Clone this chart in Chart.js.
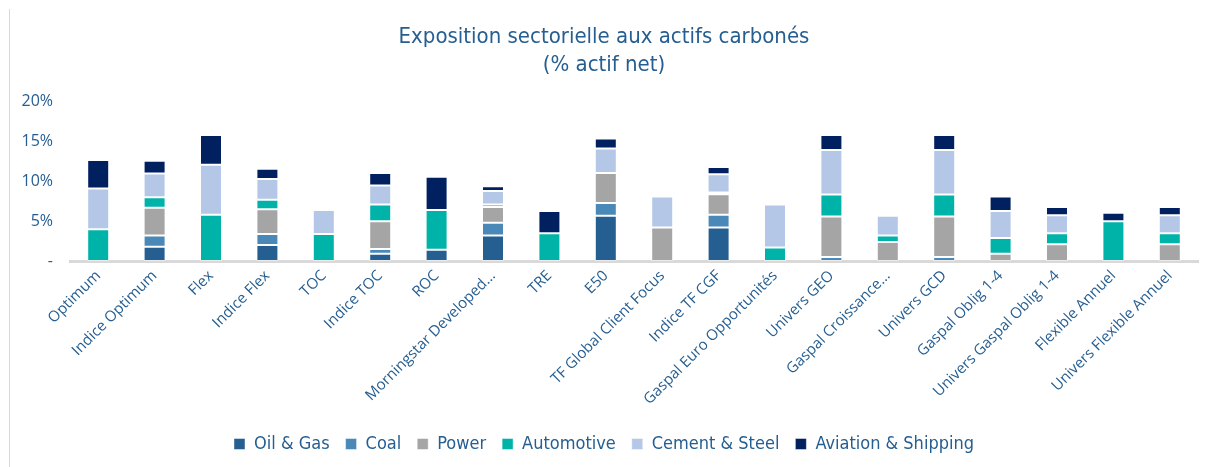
<!DOCTYPE html>
<html>
<head>
<meta charset="utf-8">
<script src="https://cdn.jsdelivr.net/npm/chart.js@4/dist/chart.umd.min.js"></script>
<style>
  html, body { margin: 0; padding: 0; background: #fff; }
  #wrap { position: relative; width: 1205px; height: 467px; }
  #edge { position: absolute; left: 9px; top: 9px; width: 0; height: 458px; border-left: 1px solid #f7ee1c; }
</style>
</head>
<body>
<div id="wrap">
  <div id="edge"></div>
  <canvas id="chart" width="1205" height="467"></canvas>
</div>
<script>
// categories (funds / benchmarks)
const categories = ["Optimum", "Indice Optimum", "Flex", "Indice Flex", "TOC", "Indice TOC", "ROC",
  "Morningstar Developed...", "TRE", "E50", "TF Global Client Focus", "Indice TF CGF",
  "Gaspal Euro Opportunités", "Univers GEO", "Gaspal Croissance...", "Univers GCD",
  "Gaspal Oblig 1-4", "Univers Gaspal Oblig 1-4", "Flexible Annuel", "Univers Flexible Annuel"];

// % of net assets, per sector
const oilGas      = [0, 1.8, 0, 2.0, 0, 0.9, 1.4, 3.2, 0, 5.7, 0, 4.2, 0, 0, 0, 0, 0, 0, 0, 0];
const coal        = [0, 1.4, 0, 1.4, 0, 0.6, 0, 1.6, 0, 1.6, 0, 1.6, 0, 0.5, 0, 0.5, 0, 0, 0, 0];
const power       = [0, 3.5, 0, 3.1, 0, 3.5, 0, 2.0, 0, 3.75, 4.2, 2.6, 0, 5.1, 2.4, 5.1, 0.9, 2.1, 0, 2.1];
const automotive  = [4.0, 1.3, 5.8, 1.2, 3.4, 2.1, 5.0, 0.3, 3.5, 0, 0, 0.2, 1.7, 2.75, 0.8, 2.75, 2.0, 1.4, 5.0, 1.4];
const cementSteel = [5.1, 3.0, 6.3, 2.6, 3.0, 2.4, 0, 1.7, 0, 3.1, 3.9, 2.3, 5.4, 5.6, 2.5, 5.6, 3.4, 2.25, 0, 2.25];
const aviation    = [3.6, 1.6, 3.75, 1.3, 0, 1.55, 4.2, 0.6, 2.8, 1.25, 0, 0.9, 0, 1.9, 0, 1.9, 1.8, 1.05, 1.05, 1.05];

const yTicks = [0, 5, 10, 15, 20];

const textColor = "#255E91";

function ds(label, data, color) {
  return {
    label: label,
    data: data,
    backgroundColor: color,
    borderColor: "rgba(255,255,255,0.45)",
    borderWidth: 1,
    borderSkipped: false,
    barPercentage: 0.39,
    categoryPercentage: 1
  };
}

const chart = new Chart(document.getElementById("chart").getContext("2d"), {
  type: "bar",
  data: {
    labels: categories,
    datasets: [
      ds("Oil & Gas", oilGas, "#255E91"),
      ds("Coal", coal, "#4A88B8"),
      ds("Power", power, "#A5A5A5"),
      ds("Automotive", automotive, "#00B3A9"),
      ds("Cement & Steel", cementSteel, "#B4C7E7"),
      ds("Aviation & Shipping", aviation, "#002060")
    ]
  },
  options: {
    responsive: false,
    animation: false,
    layout: { padding: { left: 10, right: 7, top: 9, bottom: 4 } },
    plugins: {
      title: {
        display: true,
        text: ["Exposition sectorielle aux actifs carbonés", "(% actif net)"],
        color: textColor,
        font: { family: "'DejaVu Sans Condensed', 'DejaVu Sans'", size: 22, weight: "normal", lineHeight: 1.27 },
        padding: { top: 14, bottom: 23 }
      },
      legend: {
        position: "bottom",
        labels: {
          color: textColor,
          font: { family: "'DejaVu Sans Condensed', 'DejaVu Sans'", size: 18 },
          boxWidth: 11,
          boxHeight: 11,
          padding: 16
        }
      },
      tooltip: { enabled: false }
    },
    scales: {
      x: {
        stacked: true,
        grid: { display: false, drawTicks: false },
        border: { display: true, color: "#D9D9D9", width: 3 },
        ticks: {
          color: textColor,
          font: { family: "'Open Sans'", size: 15 },
          minRotation: 45,
          maxRotation: 45,
          autoSkip: false,
          padding: 6
        },
        afterFit: function(scale) { scale.height = 158; }
      },
      y: {
        stacked: true,
        min: 0,
        max: 20,
        grid: { display: false, drawTicks: false },
        border: { display: false },
        afterBuildTicks: function(scale) { scale.ticks = yTicks.map(v => ({ value: v })); },
        ticks: {
          color: textColor,
          font: { family: "'Open Sans'", size: 16 },
          padding: 17,
          callback: function(v) { return v === 0 ? "-" : v + "%"; }
        },
        afterFit: function(scale) { scale.width = 60; }
      }
    }
  }
});
</script>
</body>
</html>
